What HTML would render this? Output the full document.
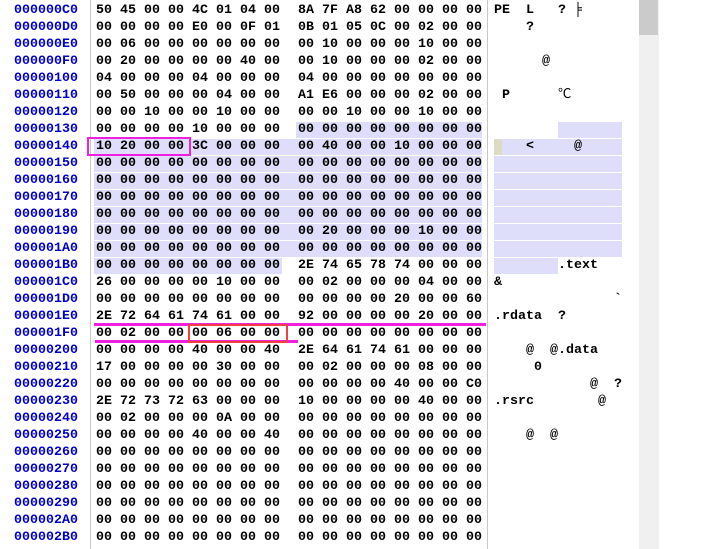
<!DOCTYPE html>
<html><head><meta charset="utf-8"><style>
body{margin:0;width:703px;height:549px;background:#fff;position:relative;overflow:hidden;font-family:"Liberation Mono","Noto Sans CJK SC",monospace;font-size:13.333px;font-weight:bold}
.r{position:absolute;left:0;height:17px;line-height:17px;white-space:pre;width:640px}
.a{position:absolute;left:14px;color:#0000c8}
.h1{position:absolute;left:96px;color:#000}
.h2{position:absolute;left:298px;color:#000}
.t{position:absolute;left:494px;color:#000}
.bg{position:absolute;background:#dedefa}
.ln{position:absolute}
</style></head><body>
<div class="ln" style="left:90px;top:0;width:1px;height:549px;background:#c8c8c8"></div>
<div class="ln" style="left:487px;top:0;width:1px;height:549px;background:#c8c8c8"></div>
<div class="ln" style="left:639px;top:0;width:20px;height:549px;background:#f0f0f0"></div>
<div class="ln" style="left:639px;top:0;width:19px;height:35px;background:#cbcbcb"></div>
<!-- highlights -->
<div class="bg" style="left:296px;top:122px;width:186px;height:16px"></div>
<div class="bg" style="left:558px;top:122px;width:64px;height:16px"></div>
<div class="bg" style="left:94px;top:139px;width:388px;height:118px;background:repeating-linear-gradient(#dedefa 0,#dedefa 16px,#fff 16px,#fff 17px)"></div>
<div class="bg" style="left:494px;top:139px;width:128px;height:118px;background:repeating-linear-gradient(#dedefa 0,#dedefa 16px,#fff 16px,#fff 17px)"></div>
<div class="bg" style="left:94px;top:258px;width:188px;height:16px"></div>
<div class="bg" style="left:494px;top:258px;width:64px;height:16px"></div>
<div class="bg" style="left:494px;top:139px;width:8px;height:16px;background:#dcdcc4"></div>

<div class="r" style="top:2px"><span class="a">000000C0</span><span class="h1">50 45 00 00 4C 01 04 00</span><span class="h2">8A 7F A8 62 00 00 00 00</span><span class="t">PE  L   ? ╞</span></div>
<div class="r" style="top:19px"><span class="a">000000D0</span><span class="h1">00 00 00 00 E0 00 0F 01</span><span class="h2">0B 01 05 0C 00 02 00 00</span><span class="t">    ?</span></div>
<div class="r" style="top:36px"><span class="a">000000E0</span><span class="h1">00 06 00 00 00 00 00 00</span><span class="h2">00 10 00 00 00 10 00 00</span></div>
<div class="r" style="top:53px"><span class="a">000000F0</span><span class="h1">00 20 00 00 00 00 40 00</span><span class="h2">00 10 00 00 00 02 00 00</span><span class="t">      @</span></div>
<div class="r" style="top:70px"><span class="a">00000100</span><span class="h1">04 00 00 00 04 00 00 00</span><span class="h2">04 00 00 00 00 00 00 00</span></div>
<div class="r" style="top:87px"><span class="a">00000110</span><span class="h1">00 50 00 00 00 04 00 00</span><span class="h2">A1 E6 00 00 00 02 00 00</span><span class="t"> P      <span style="font-weight:normal">℃</span></span></div>
<div class="r" style="top:104px"><span class="a">00000120</span><span class="h1">00 00 10 00 00 10 00 00</span><span class="h2">00 00 10 00 00 10 00 00</span></div>
<div class="r" style="top:121px"><span class="a">00000130</span><span class="h1">00 00 00 00 10 00 00 00</span><span class="h2">00 00 00 00 00 00 00 00</span></div>
<div class="r" style="top:138px"><span class="a">00000140</span><span class="h1">10 20 00 00 3C 00 00 00</span><span class="h2">00 40 00 00 10 00 00 00</span><span class="t">    <     @</span></div>
<div class="r" style="top:155px"><span class="a">00000150</span><span class="h1">00 00 00 00 00 00 00 00</span><span class="h2">00 00 00 00 00 00 00 00</span></div>
<div class="r" style="top:172px"><span class="a">00000160</span><span class="h1">00 00 00 00 00 00 00 00</span><span class="h2">00 00 00 00 00 00 00 00</span></div>
<div class="r" style="top:189px"><span class="a">00000170</span><span class="h1">00 00 00 00 00 00 00 00</span><span class="h2">00 00 00 00 00 00 00 00</span></div>
<div class="r" style="top:206px"><span class="a">00000180</span><span class="h1">00 00 00 00 00 00 00 00</span><span class="h2">00 00 00 00 00 00 00 00</span></div>
<div class="r" style="top:223px"><span class="a">00000190</span><span class="h1">00 00 00 00 00 00 00 00</span><span class="h2">00 20 00 00 00 10 00 00</span></div>
<div class="r" style="top:240px"><span class="a">000001A0</span><span class="h1">00 00 00 00 00 00 00 00</span><span class="h2">00 00 00 00 00 00 00 00</span></div>
<div class="r" style="top:257px"><span class="a">000001B0</span><span class="h1">00 00 00 00 00 00 00 00</span><span class="h2">2E 74 65 78 74 00 00 00</span><span class="t">        .text</span></div>
<div class="r" style="top:274px"><span class="a">000001C0</span><span class="h1">26 00 00 00 00 10 00 00</span><span class="h2">00 02 00 00 00 04 00 00</span><span class="t">&amp;</span></div>
<div class="r" style="top:291px"><span class="a">000001D0</span><span class="h1">00 00 00 00 00 00 00 00</span><span class="h2">00 00 00 00 20 00 00 60</span><span class="t">               `</span></div>
<div class="r" style="top:308px"><span class="a">000001E0</span><span class="h1">2E 72 64 61 74 61 00 00</span><span class="h2">92 00 00 00 00 20 00 00</span><span class="t">.rdata  ?</span></div>
<div class="r" style="top:325px"><span class="a">000001F0</span><span class="h1">00 02 00 00 00 06 00 00</span><span class="h2">00 00 00 00 00 00 00 00</span></div>
<div class="r" style="top:342px"><span class="a">00000200</span><span class="h1">00 00 00 00 40 00 00 40</span><span class="h2">2E 64 61 74 61 00 00 00</span><span class="t">    @  @.data</span></div>
<div class="r" style="top:359px"><span class="a">00000210</span><span class="h1">17 00 00 00 00 30 00 00</span><span class="h2">00 02 00 00 00 08 00 00</span><span class="t">     0</span></div>
<div class="r" style="top:376px"><span class="a">00000220</span><span class="h1">00 00 00 00 00 00 00 00</span><span class="h2">00 00 00 00 40 00 00 C0</span><span class="t">            @  ?</span></div>
<div class="r" style="top:393px"><span class="a">00000230</span><span class="h1">2E 72 73 72 63 00 00 00</span><span class="h2">10 00 00 00 00 40 00 00</span><span class="t">.rsrc        @</span></div>
<div class="r" style="top:410px"><span class="a">00000240</span><span class="h1">00 02 00 00 00 0A 00 00</span><span class="h2">00 00 00 00 00 00 00 00</span></div>
<div class="r" style="top:427px"><span class="a">00000250</span><span class="h1">00 00 00 00 40 00 00 40</span><span class="h2">00 00 00 00 00 00 00 00</span><span class="t">    @  @</span></div>
<div class="r" style="top:444px"><span class="a">00000260</span><span class="h1">00 00 00 00 00 00 00 00</span><span class="h2">00 00 00 00 00 00 00 00</span></div>
<div class="r" style="top:461px"><span class="a">00000270</span><span class="h1">00 00 00 00 00 00 00 00</span><span class="h2">00 00 00 00 00 00 00 00</span></div>
<div class="r" style="top:478px"><span class="a">00000280</span><span class="h1">00 00 00 00 00 00 00 00</span><span class="h2">00 00 00 00 00 00 00 00</span></div>
<div class="r" style="top:495px"><span class="a">00000290</span><span class="h1">00 00 00 00 00 00 00 00</span><span class="h2">00 00 00 00 00 00 00 00</span></div>
<div class="r" style="top:512px"><span class="a">000002A0</span><span class="h1">00 00 00 00 00 00 00 00</span><span class="h2">00 00 00 00 00 00 00 00</span></div>
<div class="r" style="top:529px"><span class="a">000002B0</span><span class="h1">00 00 00 00 00 00 00 00</span><span class="h2">00 00 00 00 00 00 00 00</span></div>

<!-- annotations -->
<div class="ln" style="left:87px;top:137px;width:100px;height:15px;border:2px solid #f020e0"></div>
<div class="ln" style="left:94px;top:323px;width:392px;height:3px;background:#f020e0"></div>
<div class="ln" style="left:95px;top:340px;width:203px;height:3px;background:#f020e0"></div>
<div class="ln" style="left:188px;top:324px;width:96px;height:15px;border:2px solid #f04040"></div>
</body></html>
